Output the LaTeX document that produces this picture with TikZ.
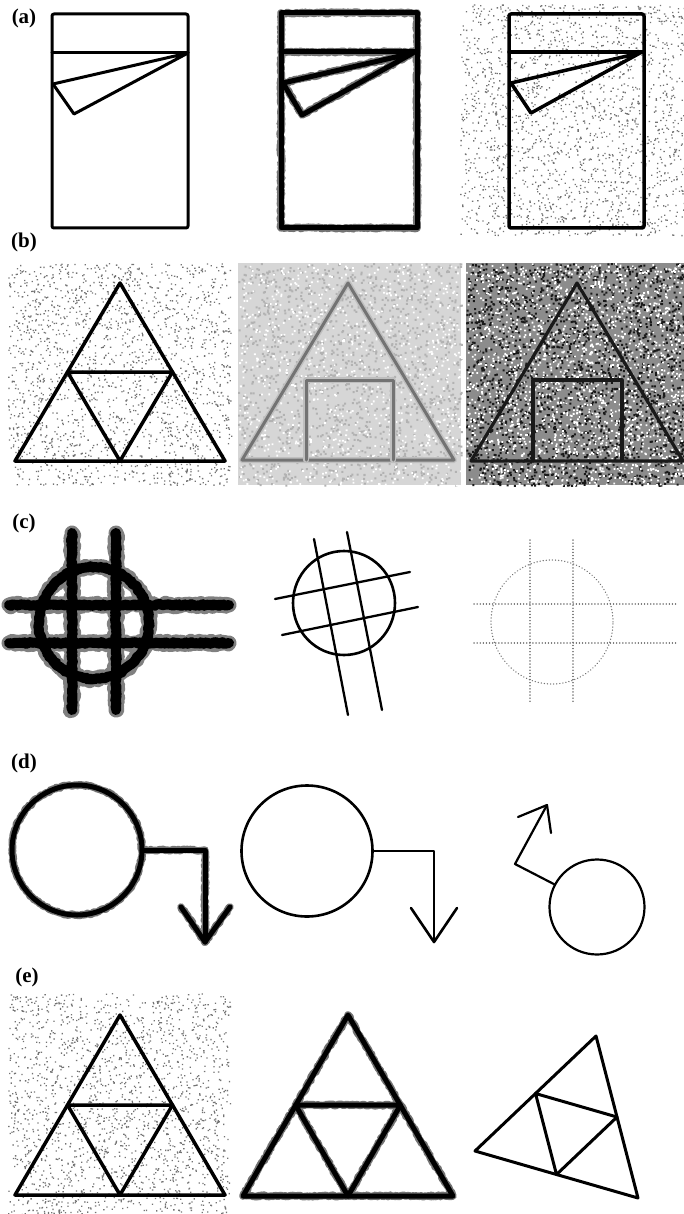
\documentclass[tikz,border=0pt]{standalone}
\usepackage{fontspec}
\setmainfont{Liberation Serif}
\usetikzlibrary{decorations.pathmorphing}
\newcommand\mynoise[7]{%
  \fill[#6] \foreach \i in {1,...,#5}{ ({#1+rnd*#3},{#2+rnd*#4}) rectangle ++(#7,#7) };}
% shapes drawn twice (halo pass, then core pass)
\newcommand\panelAtwo[1]{%
  \draw[#1] (281,13) -- (417,13) -- (417,228) -- (281,228) -- cycle;
  \draw[#1] (281,52) -- (417,52);
  \draw[#1] (413,53) -- (283,83) -- (302,115) -- cycle;}
\newcommand\panelCone[1]{%
  \draw[#1] (94,623) ellipse[x radius=55pt,y radius=56pt];
  \draw[#1] (9,605) -- (229,605);
  \draw[#1] (9,643) -- (229,643);
  \draw[#1] (72,533) -- (72,710);
  \draw[#1] (116,533) -- (116,710);}
\newcommand\panelDone[1]{%
  \draw[#1] (d1c.center) circle[radius=65pt];
  \draw[#1] (d1c.east) -- (d1k) -- (d1t);
  \draw[#1] (181,907) -- (d1t) -- (230,907);}
\newcommand\panelEtwo[1]{%
  \draw[#1] (348,1015) -- (243,1196) -- (453,1196) -- cycle;
  \draw[#1] (295.5,1105) -- (400.5,1105) -- (348,1196) -- cycle;}
\begin{document}
\begin{tikzpicture}[x=1pt,y=-1pt,line join=round,line cap=round,
  lbl/.style={font=\fontsize{21}{21}\bfseries\selectfont,inner sep=0pt},
  plain/.style={draw=black,line width=3pt},
  thinline/.style={draw=black,line width=2.3pt},
  rough/.style={decorate,decoration={random steps,segment length=1.6pt,amplitude=0.9pt}},
  fuzzyhalo/.style={draw=black!55,line width=7.5pt,rough},
  fuzzycore/.style={draw=black,line width=5pt},
  heavyhalo/.style={draw=black!50,line width=15pt,rough,decoration={amplitude=1.8pt}},
  heavycore/.style={draw=black,line width=10pt,rough},
  faint/.style={draw=black!55,line width=3pt,preaction={draw=black!25,line width=6pt}},
  darkline/.style={draw=black!90,line width=3.2pt},
  dotline/.style={draw=black!55,line width=1.4pt,dash pattern=on 0.1pt off 3pt},
  ring/.style={circle,inner sep=0pt,minimum size=#1},
  ]
\useasboundingbox (0,0) rectangle (684,1214);
\pgfmathsetseed{7}

% ---------- labels
\node[lbl] (la) at (24,18) {(a)};
\node[lbl] (lb) at (24,242) {(b)};
\node[lbl] (lc) at (24,523) {(c)};
\node[lbl] (ld) at (24,763) {(d)};
\node[lbl] (le) at (27,977) {(e)};

% ---------- noise backgrounds
\mynoise{460}{4}{224}{231}{1900}{black!55}{1.3}
\mynoise{8}{263}{223}{222}{1900}{black!55}{1.3}
\fill[black!16] (238,263) rectangle (461,485);
\mynoise{238}{263}{223}{222}{1500}{black!30}{2}
\mynoise{238}{263}{223}{222}{900}{white}{1.8}
\fill[black!45] (466,263) rectangle (684,485);
\mynoise{466}{263}{218}{222}{2200}{black!90}{2}
\mynoise{466}{263}{218}{222}{2000}{white}{1.8}
\mynoise{8}{993}{222}{221}{1900}{black!55}{1.3}

% ---------- (a)
\draw[plain,rounded corners=2pt] (52,14) rectangle (188,228);
\draw[plain] (52,53) -- (188,53);
\draw[plain] (188,53) -- (53,84) -- (74,114) -- cycle;

\panelAtwo{fuzzyhalo}
\panelAtwo{fuzzycore}

\draw[plain,line width=3.5pt,rounded corners=2pt] (509,14) rectangle (644,228);
\draw[plain,line width=3.5pt] (509,52) -- (644,52);
\draw[plain,line width=3.5pt] (640,53) -- (511,83) -- (531,113) -- cycle;

% ---------- (b)
\draw[plain,line width=3.5pt] (120,283) -- (15,461) -- (225,461) -- cycle;
\draw[plain,line width=3.5pt] (67.5,372) -- (172.5,372) -- (120,461) -- cycle;

\draw[faint] (348,283) -- (242,460) -- (454,460) -- cycle;
\draw[faint] (306,460) -- (306,380) -- (393,380) -- (393,460);

\draw[darkline] (577,283) -- (471,461) -- (683,461) -- cycle;
\draw[darkline] (533,461) -- (533,380) -- (622,380) -- (622,461);

% ---------- (c)
\panelCone{heavyhalo}
\panelCone{heavycore}

\draw[thinline,line width=2.6pt] (344,603) ellipse[x radius=51pt,y radius=52pt];
\draw[thinline] (314,539) -- (348,715);
\draw[thinline] (347,532) -- (382,710);
\draw[thinline] (275,599) -- (410,572);
\draw[thinline] (282,635) -- (418,607);

\draw[dotline] (552,622) ellipse[x radius=61pt,y radius=62pt];
\draw[dotline] (474,604) -- (678,604);
\draw[dotline] (474,643) -- (678,643);
\draw[dotline] (530,540) -- (530,703);
\draw[dotline] (573,540) -- (573,703);

% ---------- (d)
\node[ring=130pt] (d1c) at (77,850) {};
\coordinate (d1k) at (205,850);
\coordinate (d1t) at (205,942);
\panelDone{fuzzyhalo}
\panelDone{fuzzycore}

\node[ring=131pt,thinline,line width=2.6pt] (d2c) at (307,851) {};
\coordinate (d2k) at (434,851);
\coordinate (d2t) at (434,942);
\draw[thinline,line width=2.6pt] (d2c.east) -- (d2k) -- (d2t);
\draw[thinline,line width=2.6pt] (411,908) -- (d2t) -- (457,908);

\node[ring=95pt,thinline,line width=2.2pt] (d3c) at (597,907) {};
\coordinate (d3k) at (515,864);
\coordinate (d3t) at (547,805);
\draw[thinline,line width=2.2pt] (d3c.152) -- (d3k) -- (d3t);
\draw[thinline,line width=2.2pt] (518,817) -- (d3t) -- (551,833);

% ---------- (e)
\draw[plain,line width=3.5pt] (120,1015) -- (15,1195) -- (225,1195) -- cycle;
\draw[plain,line width=3.5pt] (67.5,1105) -- (172.5,1105) -- (120,1195) -- cycle;

\panelEtwo{fuzzyhalo}
\panelEtwo{fuzzycore}

\draw[plain] (596,1036) -- (475,1151) -- (638,1198) -- cycle;
\draw[plain] (535.5,1093.5) -- (617,1117) -- (556.5,1174.5) -- cycle;
\end{tikzpicture}
\end{document}
